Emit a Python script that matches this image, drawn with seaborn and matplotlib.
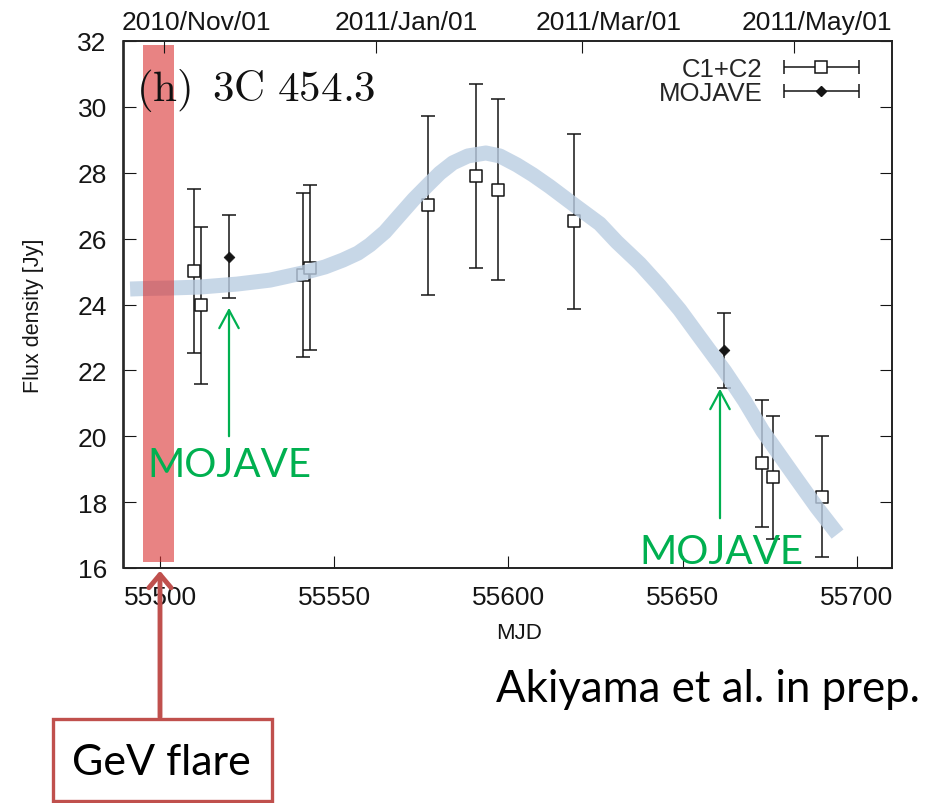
import numpy as np
import pandas as pd
import matplotlib
matplotlib.use("Agg")
import matplotlib.pyplot as plt
import matplotlib.transforms as mtransforms
import seaborn as sns
from matplotlib.container import ErrorbarContainer
from matplotlib.legend_handler import HandlerErrorbar
from matplotlib.patches import Rectangle, FancyArrowPatch

# ---- C1+C2 component flux (VLBI) ----
mjd_c12 = [55509.8, 55511.8, 55541.1, 55543.0, 55576.9, 55590.8, 55596.9,
           55618.9, 55672.9, 55675.9, 55690.1]
flux_c12 = [25.01, 23.97, 24.90, 25.12, 27.01, 27.90, 27.49,
            26.53, 19.18, 18.75, 18.17]
err_c12 = [2.49, 2.38, 2.50, 2.50, 2.71, 2.79, 2.75,
           2.66, 1.93, 1.86, 1.83]

# ---- MOJAVE epochs ----
mjd_moj = [55519.9, 55662.0]
flux_moj = [25.45, 22.61]
err_moj = [1.26, 1.13]

# ---- hand-drawn trend of the flux evolution ----
trend_mjd = [55491.40, 55497.13, 55502.87, 55511.47, 55522.09, 55531.55,
             55541.02, 55547.33, 55552.49, 55556.79, 55560.23, 55564.53,
             55568.84, 55572.85, 55576.87, 55580.31, 55584.04, 55588.34,
             55593.50, 55597.52, 55602.39, 55606.98, 55611.86, 55619.03,
             55626.20, 55631.08, 55637.67, 55643.41, 55649.15, 55654.88,
             55662.05, 55667.79, 55672.95, 55677.83, 55682.70, 55688.44,
             55694.46]
trend_flux = [24.47, 24.49, 24.50, 24.53, 24.62, 24.74,
              24.96, 25.14, 25.35, 25.56, 25.81, 26.20,
              26.72, 27.20, 27.63, 27.99, 28.30, 28.51,
              28.60, 28.51, 28.24, 27.94, 27.58, 27.01,
              26.45, 25.90, 25.24, 24.57, 23.84, 23.01,
              21.98, 21.07, 20.16, 19.43, 18.70, 17.85,
              17.03]

# ---- GeV flare window ----
flare_span = [55495.0, 55504.0]

# ---- calendar axis on top ----
date_mjd = [55501, 55562, 55621, 55682]
date_labels = ["2010/Nov/01", "2011/Jan/01", "2011/Mar/01", "2011/May/01"]

x_ticks = [55500, 55550, 55600, 55650, 55700]
y_ticks = [16, 18, 20, 22, 24, 26, 28, 30, 32]
xlim = (55489.5, 55710.0)
ylim = (16, 32)

sns.set_style("ticks")
plt.rcParams["font.family"] = ["Liberation Sans", "DejaVu Sans"]
plt.rcParams["mathtext.fontset"] = "cm"

W, H = 930, 804
fig = plt.figure(figsize=(W / 100, H / 100), dpi=100)


def fpx(x, y):
    """pixel position (from top-left) -> figure fraction"""
    return (x / W, 1 - y / H)


ax_l, ax_r, ax_t, ax_b = 123.5, 891.7, 42.0, 569.0
ax = fig.add_axes([ax_l / W, 1 - ax_b / H, (ax_r - ax_l) / W, (ax_b - ax_t) / H])

df_c12 = pd.DataFrame({"MJD": mjd_c12, "flux": flux_c12, "err": err_c12})
df_moj = pd.DataFrame({"MJD": mjd_moj, "flux": flux_moj, "err": err_moj})
df_trend = pd.DataFrame({"MJD": trend_mjd, "flux": trend_flux})

ink = "#151515"
tick_fs = 19
# error bars
ax.errorbar(df_c12["MJD"], df_c12["flux"], yerr=df_c12["err"], fmt="none",
            ecolor=ink, elinewidth=1.1, capsize=4.7, capthick=1.1, zorder=3)
ax.errorbar(df_moj["MJD"], df_moj["flux"], yerr=df_moj["err"], fmt="none",
            ecolor=ink, elinewidth=1.1, capsize=4.7, capthick=1.1, zorder=3)
# markers
sns.scatterplot(data=df_c12, x="MJD", y="flux", marker="s", s=85,
                color="white", edgecolor=ink, linewidth=1.1, zorder=4, ax=ax)
sns.scatterplot(data=df_moj, x="MJD", y="flux", marker="D", s=30,
                color=ink, edgecolor=ink, linewidth=0.5, zorder=4, ax=ax)

# trend band
sns.lineplot(data=df_trend, x="MJD", y="flux", sort=False, estimator=None,
             color="#bacde2", alpha=0.8, linewidth=10.8,
             solid_capstyle="butt", solid_joinstyle="round", zorder=5, ax=ax)

# GeV flare highlight
ax.axvspan(flare_span[0], flare_span[1], ymin=(ax_b - 562.7) / (ax_b - ax_t),
           ymax=(ax_b - 46) / (ax_b - ax_t), color="#d93030", alpha=0.6,
           lw=0, zorder=6)

ax.set_xlim(*xlim)
ax.set_ylim(*ylim)
ax.set_xticks(x_ticks)
ax.set_yticks(y_ticks)
ax.set_xlabel("")
ax.set_ylabel("")
ax.tick_params(axis="both", direction="in", length=8.6, width=0.8,
               labelsize=tick_fs, colors=ink, top=False, right=True)
ax.tick_params(axis="y", pad=12)
ax.tick_params(axis="x", pad=12)
for sp in ax.spines.values():
    sp.set_visible(True)
    sp.set_linewidth(1.2)
    sp.set_color("#222222")

# calendar axis
ax2 = ax.twiny()
ax2.set_xlim(*xlim)
ax2.set_xticks(date_mjd)
ax2.set_xticklabels(date_labels)
ax2.tick_params(axis="x", direction="in", length=8.6, width=0.8,
                labelsize=tick_fs, colors=ink, pad=5)
for sp in ax2.spines.values():
    sp.set_linewidth(1.2)
    sp.set_color("#222222")
# date labels sit a little to the right of their ticks
label_shift_px = [33, 30, 27, 23]
for tick, dx in zip(ax2.xaxis.get_major_ticks(len(date_mjd)), label_shift_px):
    tick.label2.set_transform(tick.label2.get_transform()
                              + mtransforms.ScaledTranslation(dx / 100, 0, fig.dpi_scale_trans))

fig.text(*fpx(33, 316), "Flux density [Jy]", rotation=90, ha="center",
         va="center", fontsize=15.5, color=ink)
fig.text(*fpx(519, 634), "MJD", ha="center", va="center", fontsize=16,
         color=ink)

fig.text(*fpx(136, 101), r"$\mathrm{(h)\ \,3C\ 454.3}$", ha="left",
         va="baseline", fontsize=31, color="#111111", zorder=1)

# legend with horizontal error bars
h1 = ax.errorbar([np.nan], [np.nan], xerr=[1.0], fmt="s", ms=9.2,
                 mfc="white", mec=ink, mew=1.1, ecolor=ink, elinewidth=1.1,
                 capsize=4.7, capthick=1.1, label="C1+C2")
h2 = ax.errorbar([np.nan], [np.nan], xerr=[1.0], fmt="D", ms=5.5,
                 mfc=ink, mec=ink, ecolor=ink, elinewidth=1.1,
                 capsize=4.7, capthick=1.1, label="MOJAVE")
ax.set_xlim(*xlim)
ax.set_ylim(*ylim)
ax.legend(handles=[h1, h2], loc="upper right",
          bbox_to_anchor=fpx(863, 58), bbox_transform=fig.transFigure,
          frameon=False, markerfirst=False, fontsize=18.5,
          handlelength=3.25, handletextpad=0.65, labelspacing=0.0,
          borderaxespad=0, borderpad=0,
          handler_map={ErrorbarContainer: HandlerErrorbar(xerr_size=1.45)})

# annotations
green = "#00b050"
red = "#c0504d"
fig.add_artist(FancyArrowPatch(fpx(229, 440), fpx(229, 306),
                               transform=fig.transFigure,
                               arrowstyle="->,head_length=13,head_width=7",
                               mutation_scale=1, color=green, lw=1.6,
                               zorder=10))
fig.add_artist(FancyArrowPatch(fpx(720, 522), fpx(720, 387),
                               transform=fig.transFigure,
                               arrowstyle="->,head_length=13,head_width=7",
                               mutation_scale=1, color=green, lw=1.6,
                               zorder=10))
fig.text(*fpx(229, 466), "MOJAVE", ha="center", va="center", fontsize=29,
         family=["Lato", "DejaVu Sans"], color=green, zorder=11)
fig.text(*fpx(721, 553), "MOJAVE", ha="center", va="center", fontsize=29,
         family=["Lato", "DejaVu Sans"], color=green, zorder=11)

fig.add_artist(FancyArrowPatch(fpx(160, 721), fpx(160, 569),
                               transform=fig.transFigure,
                               arrowstyle="->,head_length=9.5,head_width=8",
                               mutation_scale=1, color=red, lw=3.5,
                               zorder=10))
box_l, box_t, box_r, box_b = 53, 720, 272, 802
fig.add_artist(Rectangle(fpx(box_l, box_b), (box_r - box_l) / W,
                         (box_b - box_t) / H, transform=fig.transFigure,
                         facecolor="white", edgecolor=red, lw=2.4, zorder=10))
fig.text(*fpx(161, 763), "GeV flare", ha="center", va="center", fontsize=31,
         family=["Lato", "DejaVu Sans"], color="black", zorder=11)
fig.text(*fpx(708, 690), "Akiyama et al. in prep.", ha="center", va="center",
         fontsize=31.5, family=["Lato", "DejaVu Sans"], color="black",
         zorder=11)

fig.savefig("out.png", dpi=100)
